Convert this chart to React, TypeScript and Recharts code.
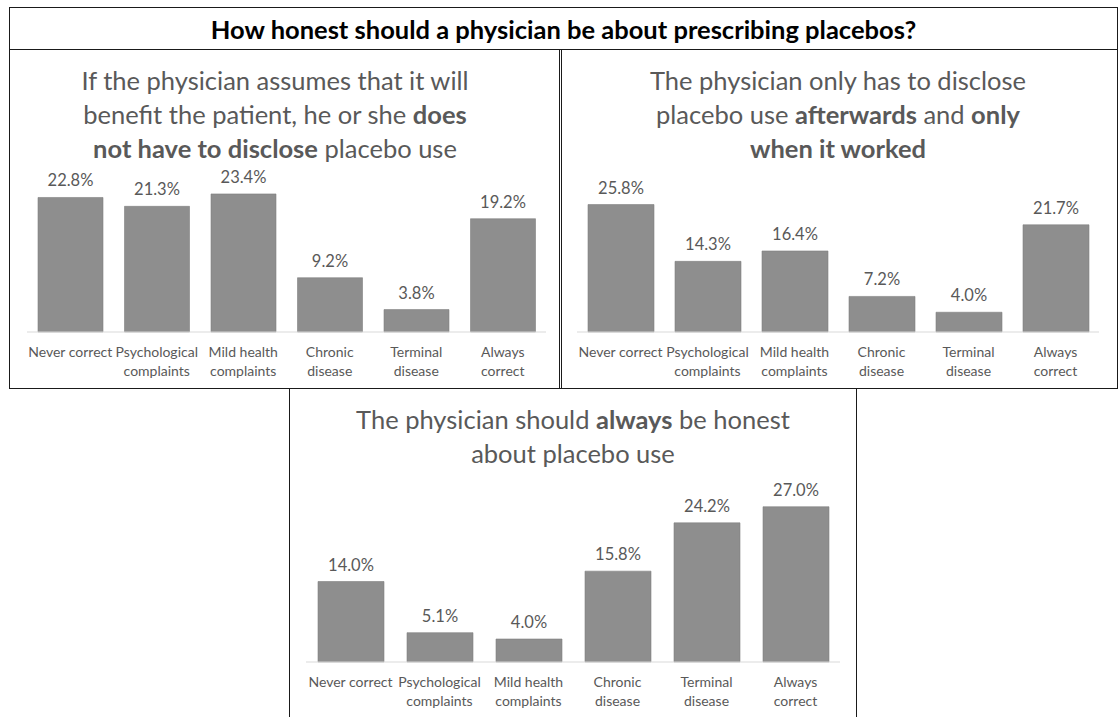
import { Bar, BarChart, LabelList, XAxis, YAxis } from "recharts"

const categories = [
  "Never correct",
  "Psychological\ncomplaints",
  "Mild health\ncomplaints",
  "Chronic\ndisease",
  "Terminal\ndisease",
  "Always\ncorrect",
]

// share of answers (%) per statement
const notDisclose = [22.8, 21.3, 23.4, 9.2, 3.8, 19.2]
const afterwards = [25.8, 14.3, 16.4, 7.2, 4.0, 21.7]
const alwaysHonest = [14.0, 5.1, 4.0, 15.8, 24.2, 27.0]

const FONT = "Lato, 'Open Sans', sans-serif"
const GRAY = "#595959"
const BAR = "#8e8e8e"

const toRows = (values: number[]) =>
  categories.map((c, i) => ({ category: c, value: values[i] }))

const CategoryTick = (props: any) => {
  const { x, y, payload } = props
  const lines = String(payload.value).split("\n")
  return (
    <text x={x} y={y} textAnchor="middle" fill={GRAY} fontSize={14} fontFamily={FONT}>
      {lines.map((l, i) => (
        <tspan key={i} x={x} dy={i === 0 ? 17 : 19}>
          {l}
        </tspan>
      ))}
    </text>
  )
}

interface PanelChartProps {
  values: number[]
  left: number
  top: number
  width: number
  height: number
  plotTop: number
  yMax: number
  barSize: number
}

function PanelChart({ values, left, top, width, height, plotTop, yMax, barSize }: PanelChartProps) {
  const data = toRows(values)
  return (
    <div style={{ position: "absolute", left, top }}>
      <BarChart
        width={width}
        height={height}
        data={data}
        margin={{ top: plotTop, right: 0, bottom: 0, left: 0 }}
      >
        <XAxis
          dataKey="category"
          height={53}
          interval={0}
          tickLine={false}
          axisLine={{ stroke: "#d9d9d9" }}
          tick={<CategoryTick />}
        />
        <YAxis hide domain={[0, yMax]} />
        <Bar dataKey="value" fill={BAR} stroke="#7f7f7f" strokeWidth={0.6} barSize={barSize} isAnimationActive={false}>
          <LabelList
            dataKey="value"
            position="top"
            offset={11}
            fill={GRAY}
            fontSize={16.5}
            fontFamily={FONT}
            formatter={(v: any) => `${Number(v).toFixed(1)}%`}
          />
        </Bar>
      </BarChart>
    </div>
  )
}

const box = (left: number, top: number, width: number, height: number): React.CSSProperties => ({
  position: "absolute",
  left,
  top,
  width,
  height,
  border: "1.5px solid #1a1a1a",
  boxSizing: "border-box",
})

const panelTitle = (centerX: number, top: number, width: number): React.CSSProperties => ({
  position: "absolute",
  left: centerX - width / 2,
  top,
  width,
  textAlign: "center",
  color: GRAY,
  fontSize: 25.5,
  lineHeight: "34px",
  fontFamily: FONT,
})

export default function App() {
  return (
    <div
      style={{
        position: "absolute",
        left: 0,
        top: 0,
        width: 1120,
        height: 717,
        background: "#fff",
        overflow: "hidden",
        fontFamily: FONT,
      }}
    >
      <div style={box(9, 7, 1109, 43)} />
      <div
        style={{
          position: "absolute",
          left: 9,
          top: 8,
          width: 1109,
          height: 43,
          lineHeight: "43px",
          textAlign: "center",
          fontWeight: 700,
          fontSize: 25.5,
          color: "#000",
        }}
      >
        How honest should a physician be about prescribing placebos?
      </div>

      <div style={box(9, 49, 551, 340)} />
      <div style={box(561, 49, 557, 340)} />
      <div style={box(289, 388, 568, 340)} />

      <div style={panelTitle(275, 63, 520)}>
        If the physician assumes that it will
        <br />
        benefit the patient, he or she <b>does</b>
        <br />
        <b>not have to disclose</b> placebo use
      </div>
      <div style={panelTitle(838, 63, 520)}>
        The physician only has to disclose
        <br />
        placebo use <b>afterwards</b> and <b>only</b>
        <br />
        <b>when it worked</b>
      </div>
      <div style={panelTitle(573, 402, 540)}>
        The physician should <b>always</b> be honest
        <br />
        about placebo use
      </div>

      <PanelChart values={notDisclose} left={27} top={158} width={519} height={227} plotTop={26.5} yMax={25} barSize={65} />
      <PanelChart values={afterwards} left={576.5} top={158} width={522} height={227} plotTop={25.8} yMax={30} barSize={66} />
      <PanelChart values={alwaysHonest} left={305.5} top={465} width={534} height={250} plotTop={24.5} yMax={30} barSize={66} />
    </div>
  )
}
